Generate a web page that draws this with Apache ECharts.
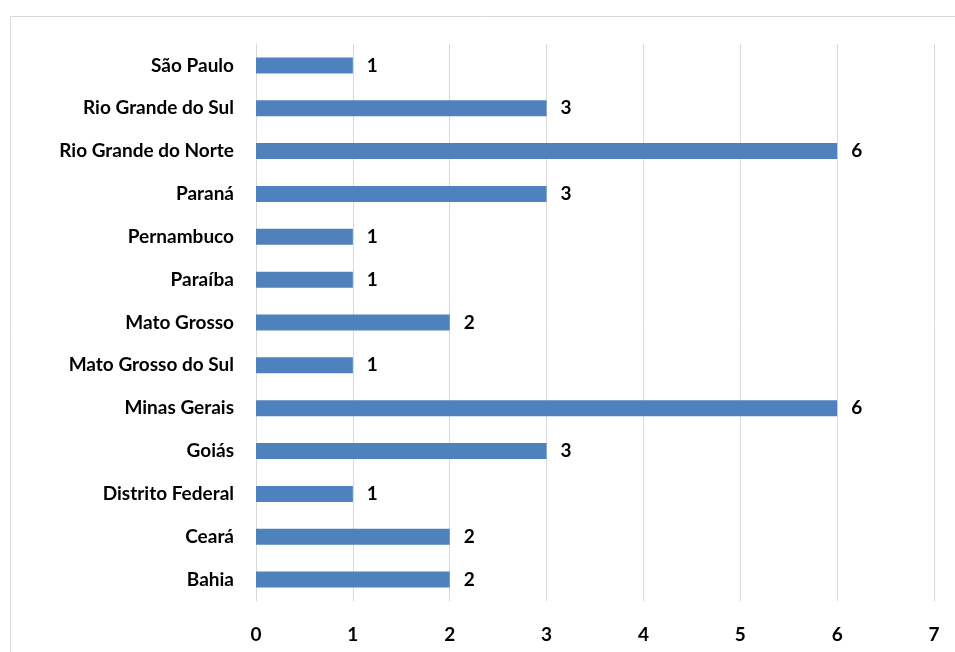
<!DOCTYPE html>
<html>
<head>
<meta charset="utf-8">
<script src="https://cdn.jsdelivr.net/npm/echarts@6/dist/echarts.min.js"></script>
<style>
  html, body { margin: 0; padding: 0; background: #fff; }
  #chart { width: 955px; height: 652px; }
</style>
</head>
<body>
<div id="chart"></div>
<script>
// States, listed bottom to top as drawn on the category axis
const states = [
  'Bahia', 'Ceará', 'Distrito Federal', 'Goiás', 'Minas Gerais',
  'Mato Grosso do Sul', 'Mato Grosso', 'Paraíba', 'Pernambuco',
  'Paraná', 'Rio Grande do Norte', 'Rio Grande do Sul', 'São Paulo'
];
const counts = [2, 2, 1, 3, 6, 1, 2, 1, 1, 3, 6, 3, 1];
const xTicks = [0, 1, 2, 3, 4, 5, 6, 7];

const font = 'Lato, "Open Sans", sans-serif';
const chart = echarts.init(document.getElementById('chart'));

chart.setOption({
  animation: false,
  backgroundColor: '#ffffff',
  graphic: [{
    type: 'rect',
    shape: { x: 10.5, y: 16.5, width: 960, height: 660 },
    style: { fill: 'none', stroke: '#d9d9d9', lineWidth: 1 },
    silent: true
  }],
  grid: { left: 256, right: 21, top: 44, bottom: 51, containLabel: false },
  xAxis: {
    type: 'value',
    min: xTicks[0],
    max: xTicks[xTicks.length - 1],
    interval: 1,
    axisLine: { show: false },
    axisTick: { show: false },
    splitLine: { show: true, lineStyle: { color: '#d9d9d9', width: 1 } },
    axisLabel: {
      margin: 24,
      fontFamily: font, fontWeight: 'bold', fontSize: 19, color: '#000'
    }
  },
  yAxis: {
    type: 'category',
    data: states,
    axisLine: { show: true, lineStyle: { color: '#d9d9d9', width: 1 } },
    axisTick: { show: false },
    axisLabel: {
      margin: 22,
      fontFamily: font, fontWeight: 'bold', fontSize: 19, color: '#000'
    }
  },
  series: [{
    type: 'bar',
    data: counts,
    barWidth: 16,
    itemStyle: { color: '#4f81bd' },
    label: {
      show: true,
      position: 'right',
      distance: 14,
      fontFamily: font, fontWeight: 'bold', fontSize: 19, color: '#000'
    }
  }]
});
</script>
</body>
</html>
